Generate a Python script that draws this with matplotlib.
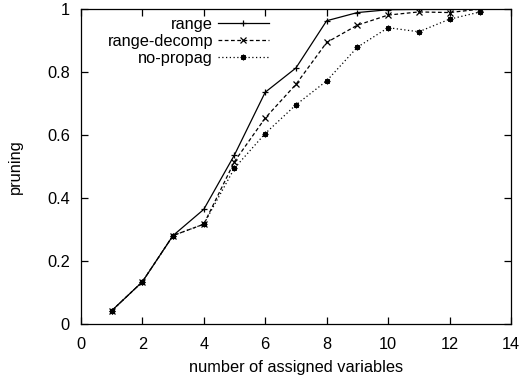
import matplotlib
matplotlib.use("Agg")
import matplotlib.pyplot as plt
from matplotlib.ticker import FormatStrFormatter

# data
assigned = [1, 2, 3, 4, 5, 6, 7, 8, 9, 10, 11, 12, 13]
range_vals = [0.042, 0.134, 0.281, 0.364, 0.537, 0.736, 0.813, 0.963, 0.989, 0.998, 0.999, 0.999, 1.0]
decomp_vals = [0.042, 0.134, 0.281, 0.317, 0.516, 0.654, 0.761, 0.894, 0.949, 0.981, 0.991, 0.989, 1.0]
nopropag_vals = [0.042, 0.134, 0.281, 0.317, 0.495, 0.605, 0.696, 0.772, 0.879, 0.941, 0.928, 0.968, 0.991]
labels = ["range", "range-decomp", "no-propag"]


def main():
    plt.rcParams["font.family"] = ["Liberation Sans", "DejaVu Sans"]
    plt.rcParams["font.size"] = 11.8

    fig = plt.figure(figsize=(5.32, 3.79), dpi=100)
    ax = fig.add_axes([0.152, 0.145, 0.8085, 0.831])

    ax.plot(assigned, range_vals, color="black", lw=0.9, ls="-",
            marker="+", ms=4, mew=0.9, label=labels[0])
    ax.plot(assigned, decomp_vals, color="black", lw=0.9, ls=(0, (3, 2)),
            marker="x", ms=4, mew=0.9, label=labels[1])
    ax.plot(assigned, nopropag_vals, color="black", lw=0.9, ls=(0, (1, 2)),
            marker=(8, 2, 0), ms=4, mew=0.9, label=labels[2])

    ax.set_xlim(0, 14)
    ax.set_ylim(0, 1)
    ax.set_xticks(range(0, 15, 2))
    ax.set_yticks([0, 0.2, 0.4, 0.6, 0.8, 1.0])
    ax.yaxis.set_major_formatter(FormatStrFormatter("%g"))
    ax.tick_params(direction="in", top=True, right=True, length=5, width=0.9)
    ax.tick_params(axis="x", pad=9)
    ax.tick_params(axis="y", pad=8)
    for s in ax.spines.values():
        s.set_linewidth(0.9)

    ax.set_xlabel("number of assigned variables", labelpad=6)
    ax.set_ylabel("pruning", labelpad=17)

    ax.legend(loc="upper right", bbox_to_anchor=(0.437, 0.975), frameon=False,
              markerfirst=False, handlelength=3.1, handletextpad=0.3,
              labelspacing=0.12, borderpad=0, borderaxespad=0)

    fig.savefig("out.png", dpi=100)


if __name__ == "__main__":
    main()
